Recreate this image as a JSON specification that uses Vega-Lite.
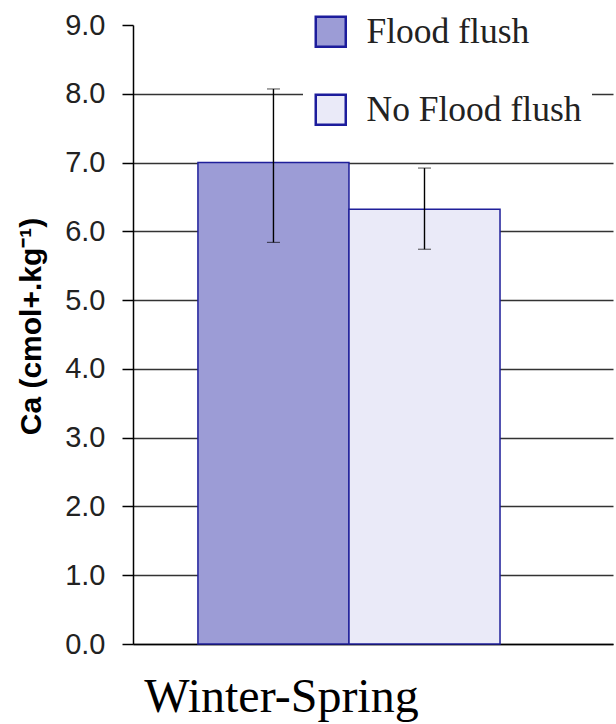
{
  "$schema": "https://vega.github.io/schema/vega-lite/v6.json",
  "width": 480,
  "height": 619,
  "autosize": {"type": "none"},
  "padding": {"left": 133, "top": 25, "right": 3, "bottom": 80},
  "background": "white",
  "config": {"view": {"stroke": null}},
  "data": {
    "values": [
      {"treatment": "Flood flush", "mean": 7.0, "lo": 5.84, "hi": 8.07},
      {"treatment": "No Flood flush", "mean": 6.32, "lo": 5.74, "hi": 6.92}
    ]
  },
  "layer": [
    {
      "mark": {"type": "bar", "stroke": "#1f1f9a", "strokeWidth": 1.5},
      "encoding": {
        "x": {
          "field": "treatment",
          "type": "nominal",
          "sort": ["Flood flush", "No Flood flush"],
          "scale": {"paddingInner": 0, "paddingOuter": 0.589, "align": 0.365},
          "axis": {
            "labels": false,
            "ticks": false,
            "domainColor": "black",
            "domainWidth": 1.5,
            "title": "Winter-Spring",
            "titleFont": "Liberation Serif",
            "titleFontSize": 48,
            "titleFontWeight": "normal",
            "titleColor": "black",
            "titleX": 148,
            "titleY": 67,
            "titleBaseline": "alphabetic",
            "titleAlign": "center"
          }
        },
        "y": {
          "field": "mean",
          "type": "quantitative",
          "scale": {"domain": [0, 9], "nice": false},
          "axis": {
            "values": [0, 1, 2, 3, 4, 5, 6, 7, 8, 9],
            "format": ".1f",
            "tickSize": 11,
            "tickColor": "black",
            "tickWidth": 1.5,
            "domainColor": "black",
            "domainWidth": 1.5,
            "labelFont": "Liberation Sans",
            "labelFontSize": 29,
            "labelColor": "#222222",
            "labelPadding": 17,
            "grid": true,
            "gridColor": "#333333",
            "gridWidth": 1.3,
            "gridOpacity": {"condition": {"test": "datum.value >= 9", "value": 0}, "value": 1},
            "title": "Ca (cmol+.kg⁻¹)",
            "titleFont": "Liberation Sans",
            "titleFontSize": 30,
            "titleFontWeight": "bold",
            "titleColor": "black",
            "titlePadding": 18,
            "titleY": 301
          }
        },
        "color": {
          "field": "treatment",
          "type": "nominal",
          "scale": {"domain": ["Flood flush", "No Flood flush"], "range": ["#9c9cd6", "#eaeaf8"]},
          "legend": {
            "orient": "none",
            "legendX": 170,
            "legendY": -21,
            "title": null,
            "fillColor": "white",
            "padding": 10,
            "symbolType": "square",
            "symbolSize": 900,
            "symbolStrokeColor": "#1c1c9c",
            "symbolStrokeWidth": 2.5,
            "symbolOpacity": 1,
            "labelFont": "Liberation Serif",
            "labelFontSize": 35.5,
            "labelColor": "#222222",
            "labelOffset": 18,
            "labelLimit": 0,
            "rowPadding": 37
          }
        }
      }
    },
    {
      "mark": {
        "type": "errorbar",
        "ticks": {"color": "black", "size": 13, "strokeWidth": 1.4},
        "rule": {"color": "black", "strokeWidth": 1.4}
      },
      "encoding": {
        "x": {"field": "treatment", "type": "nominal", "sort": ["Flood flush", "No Flood flush"]},
        "y": {"field": "lo", "type": "quantitative", "title": "Ca (cmol+.kg⁻¹)"},
        "y2": {"field": "hi"}
      }
    }
  ]
}
